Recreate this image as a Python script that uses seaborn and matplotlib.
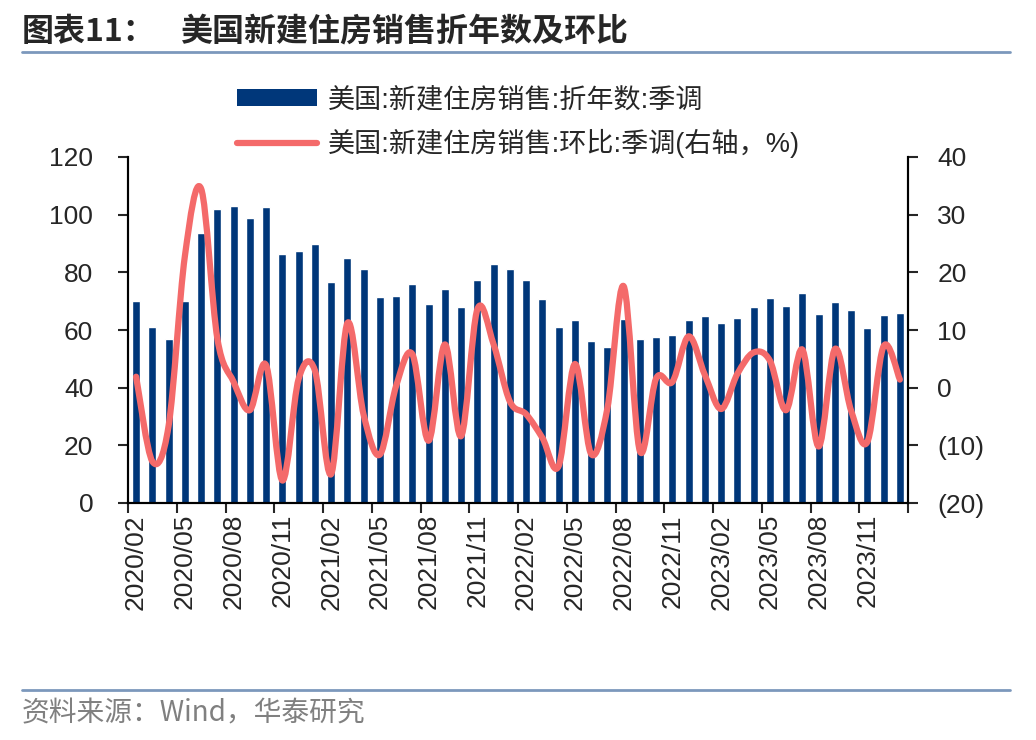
import numpy as np
import pandas as pd
import matplotlib
matplotlib.use('Agg')
import matplotlib.pyplot as plt
import seaborn as sns
from matplotlib.path import Path
from matplotlib.patches import PathPatch, Patch
from matplotlib.lines import Line2D

# 数据：美国新建住房销售（折年数，万套）及环比（%）
months = pd.period_range('2020-02', '2024-01', freq='M').strftime('%Y/%m').tolist()

sales = [70.0, 61.0, 57.0, 70.0, 93.7, 102.0, 103.0, 98.9, 102.7, 86.4,
         87.4, 90.0, 76.5, 85.0, 81.0, 71.6, 71.8, 76.0, 69.0, 74.2,
         68.0, 77.2, 83.0, 81.0, 77.3, 70.6, 61.0, 63.5, 56.2, 54.2,
         63.8, 56.8, 57.7, 58.3, 63.5, 64.9, 62.5, 64.0, 67.9, 71.1,
         68.3, 72.8, 65.4, 69.8, 67.0, 60.7, 65.1, 66.0]

mom = [1.9, -12.8, -6.6, 22.8, 34.5, 8.5, 1.0, -3.9, 3.9, -16.1,
       1.5, 3.0, -15.0, 11.2, -4.7, -11.6, 0.3, 5.8, -9.2, 7.5,
       -8.4, 13.6, 7.5, -2.4, -4.6, -8.7, -13.6, 4.1, -11.5, -3.6,
       17.6, -11.0, 1.6, 1.0, 8.9, 2.2, -3.7, 2.4, 6.1, 4.7,
       -3.9, 6.6, -10.2, 6.7, -4.0, -9.4, 7.2, 1.4]

bar_label = '美国:新建住房销售:折年数:季调'
line_label = '美国:新建住房销售:环比:季调(右轴，%)'
title_num = '图表11：'
title_text = '美国新建住房销售折年数及环比'
source_text = '资料来源：Wind，华泰研究'

BAR_COLOR = '#00377A'
LINE_COLOR = '#F46A6A'
RULE_COLOR = '#7C98BC'

sns.set_style('ticks')
plt.rcParams['font.family'] = ['Liberation Sans', 'Noto Sans CJK SC', 'DejaVu Sans']

df = pd.DataFrame({'month': months, 'sales': sales, 'mom': mom})

fig = plt.figure(figsize=(10.36, 7.4), dpi=100)
ax = fig.add_axes([128 / 1036, 1 - 503 / 740, 780 / 1036, 346 / 740])

sns.barplot(data=df, x='month', y='sales', color=BAR_COLOR, saturation=1,
            width=0.5, ax=ax)
ax.set_xlim(-0.5, len(months) - 0.5)
ax.set_ylim(0, 120)
ax.set_yticks(range(0, 121, 20))
ax.set_xlabel('')
ax.set_ylabel('')

# x 轴：刻度线在季度分界，标签在月份中间
bounds = np.arange(-0.5, len(months), 3)
ax.set_xticks(bounds, [''] * len(bounds))
ax.set_xticks(np.arange(0, len(months), 3), [months[i] for i in range(0, len(months), 3)],
              minor=True)
ax.tick_params(axis='x', which='minor', length=0, rotation=90, labelsize=19, pad=8)
ax.tick_params(axis='x', which='major', length=7, width=1.5, direction='out')
ax.tick_params(axis='y', length=7, width=1.5, labelsize=19, pad=18)

# 右轴：环比，平滑曲线（贝塞尔）
ax2 = ax.twinx()
ax2.set_ylim(-20, 40)
ax2.set_yticks(range(-20, 41, 10))
ax2.set_yticklabels([f'({abs(v)})' if v < 0 else str(v) for v in range(-20, 41, 10)])
ax2.tick_params(axis='y', length=7, width=1.5, labelsize=19, pad=14)

x = np.arange(len(mom), dtype=float)
y = np.array(mom, dtype=float)
verts = [(x[0], y[0])]
codes = [Path.MOVETO]
n = len(x)
for i in range(n - 1):
    p0 = np.array([x[max(i - 1, 0)], y[max(i - 1, 0)]])
    p1 = np.array([x[i], y[i]])
    p2 = np.array([x[i + 1], y[i + 1]])
    p3 = np.array([x[min(i + 2, n - 1)], y[min(i + 2, n - 1)]])
    c1 = p1 + (p2 - p0) / 6
    c2 = p2 - (p3 - p1) / 6
    verts += [tuple(c1), tuple(c2), tuple(p2)]
    codes += [Path.CURVE4] * 3
ax2.add_patch(PathPatch(Path(verts, codes), fill=False, edgecolor=LINE_COLOR,
                        lw=4.5, capstyle='round', joinstyle='round'))

for a in (ax, ax2):
    a.spines['top'].set_visible(False)
    for s in ('left', 'right', 'bottom'):
        a.spines[s].set_linewidth(1.5)
        a.spines[s].set_color('black')

# 图例
handles = [Patch(facecolor=BAR_COLOR, edgecolor='none'),
           Line2D([0], [0], color=LINE_COLOR, lw=4.5, solid_capstyle='round')]
fig.legend(handles, [bar_label, line_label], loc='upper left',
           bbox_to_anchor=(237 / 1036, 1 - 87 / 740), frameon=False,
           fontsize=19.5, handlelength=2.95, handleheight=0.55, handletextpad=0.4,
           labelspacing=0.6, borderpad=0, borderaxespad=0)

# 标题与来源
fig.text(22 / 1036, 1 - 32 / 740, title_num, fontsize=23, fontweight='bold',
         va='center', ha='left', family=['Noto Sans CJK SC'])
fig.text(180 / 1036, 1 - 32 / 740, title_text, fontsize=23, fontweight='bold',
         va='center', ha='left', family=['Noto Sans CJK SC'])
fig.add_artist(Line2D([22 / 1036, 1010 / 1036], [1 - 52 / 740, 1 - 52 / 740],
                      color=RULE_COLOR, lw=2))
fig.add_artist(Line2D([22 / 1036, 1010 / 1036], [1 - 690 / 740, 1 - 690 / 740],
                      color=RULE_COLOR, lw=2))
fig.text(22 / 1036, 1 - 713 / 740, source_text, fontsize=20, color='#808080',
         va='center', ha='left', family=['Noto Sans CJK SC', 'Liberation Sans'])

fig.savefig('out.png', dpi=100)
plt.close(fig)
